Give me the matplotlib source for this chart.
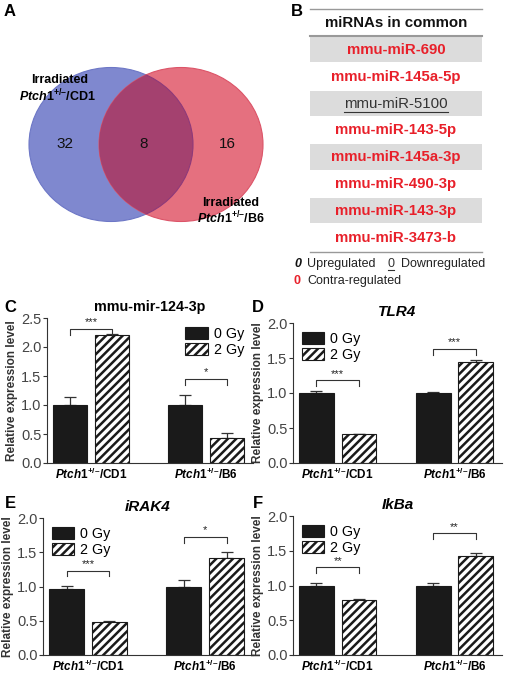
import matplotlib
matplotlib.use("Agg")
import matplotlib.pyplot as plt
from matplotlib.patches import Ellipse, Rectangle
import matplotlib.lines as mlines

plt.rcParams['font.family'] = ['Liberation Sans', 'DejaVu Sans']
plt.rcParams['mathtext.fontset'] = 'custom'
plt.rcParams['mathtext.rm'] = 'Liberation Sans'
plt.rcParams['mathtext.it'] = 'Liberation Sans:italic'
plt.rcParams['mathtext.bf'] = 'Liberation Sans:bold'
plt.rcParams['mathtext.bfit'] = 'Liberation Sans:bold:italic'
plt.rcParams['hatch.linewidth'] = 1.8

W, H = 510, 674

# ---------------- data ----------------
venn_counts = [32, 8, 16]
common_mirnas = ['mmu-miR-690', 'mmu-miR-145a-5p', 'mmu-miR-5100', 'mmu-miR-143-5p',
                 'mmu-miR-145a-3p', 'mmu-miR-490-3p', 'mmu-miR-143-3p', 'mmu-miR-3473-b']
mirna_contra = [True, True, False, True, True, True, True, True]

groups = ['CD1', 'B6']
doses = ['0 Gy', '2 Gy']

c_title = 'mmu-mir-124-3p'
c_0gy = [1.00, 1.00]
c_0gy_err = [0.13, 0.17]
c_2gy = [2.20, 0.43]
c_2gy_err = [0.03, 0.08]
c_stars = ['***', '*']
c_brackets = [2.31, 1.45]

d_title = 'TLR4'
d_0gy = [1.00, 1.00]
d_0gy_err = [0.03, 0.02]
d_2gy = [0.41, 1.44]
d_2gy_err = [0.01, 0.03]
d_stars = ['***', '***']
d_brackets = [1.18, 1.63]

e_title = 'iRAK4'
e_0gy = [0.97, 1.00]
e_0gy_err = [0.04, 0.10]
e_2gy = [0.48, 1.41]
e_2gy_err = [0.01, 0.10]
e_stars = ['***', '*']
e_brackets = [1.23, 1.72]

f_title = 'IkBa'
f_0gy = [1.00, 1.00]
f_0gy_err = [0.03, 0.04]
f_2gy = [0.79, 1.42]
f_2gy_err = [0.01, 0.05]
f_stars = ['**', '**']
f_brackets = [1.26, 1.75]

fig = plt.figure(figsize=(W / 100, H / 100), dpi=100)

# overlay axes in pixel coordinates for panels A, B and letters
ov = fig.add_axes([0, 0, 1, 1])
ov.set_xlim(0, W)
ov.set_ylim(H, 0)
ov.axis('off')

# ---------------- panel A: Venn ----------------
blue = Ellipse((111, 144.5), 164, 154, facecolor='#7f88cf', edgecolor='#6d77c6', lw=0.8)
red = Ellipse((181, 144.5), 164, 154, facecolor='#e5707f', edgecolor='#dc5468', lw=0.8)
ov.add_patch(blue)
ov.add_patch(red)
overlap = Ellipse((111, 144.5), 164, 154, facecolor='#a4416f', edgecolor='#8e3a7a', lw=0.8)
ov.add_patch(overlap)
overlap.set_clip_path(red)
for xpos, n in zip([65, 144, 227], venn_counts):
    ov.text(xpos, 144, str(n), ha='center', va='center', fontsize=11, color='#111111')


def ptch(strain):
    return r'$\mathbfit{Ptch}\mathbf{1}^{\mathbf{+/–}}\mathbf{/' + strain + '}$'


ov.text(60, 80, 'Irradiated', ha='center', va='center', fontsize=9, fontweight='bold')
ov.text(58, 96, ptch('CD1'), ha='center', va='center', fontsize=9, fontweight='bold')
ov.text(231, 203, 'Irradiated', ha='center', va='center', fontsize=9, fontweight='bold')
ov.text(231, 218, ptch('B6'), ha='center', va='center', fontsize=9, fontweight='bold')

# ---------------- panel B: table ----------------
tx0, tx1 = 310, 482
tcx = (tx0 + tx1) / 2
ov.add_line(mlines.Line2D([tx0, tx1], [9, 9], color='#999999', lw=1))
ov.text(tcx, 23, 'miRNAs in common', ha='center', va='center', fontsize=10.8,
        fontweight='bold', color='#111111')
ov.add_line(mlines.Line2D([tx0, tx1], [36, 36], color='#999999', lw=1.5))
row_h = 26.8
fig.canvas.draw()
for i, (name, contra) in enumerate(zip(common_mirnas, mirna_contra)):
    top = 37 + i * row_h
    if i % 2 == 0:
        ov.add_patch(Rectangle((tx0, top), tx1 - tx0, row_h - 1.5,
                               facecolor='#dcdcdc', edgecolor='none'))
    yc = top + row_h / 2 - 0.5
    if contra:
        ov.text(tcx, yc, name, ha='center', va='center', fontsize=10.8,
                fontweight='bold', color='#e8202a')
    else:
        t = ov.text(tcx, yc, name, ha='center', va='center', fontsize=10.8,
                    color='#333333')
        bb = t.get_window_extent(renderer=fig.canvas.get_renderer())
        ov.add_line(mlines.Line2D([bb.x0, bb.x1], [H - bb.y0 + 1, H - bb.y0 + 1],
                                  color='#333333', lw=0.8))
ov.add_line(mlines.Line2D([tx0, tx1], [252, 252], color='#999999', lw=1))

ov.text(294, 264, '0', ha='left', va='center', fontsize=9, fontweight='bold',
        fontstyle='italic', color='#111111')
ov.text(307, 264, 'Upregulated', ha='left', va='center', fontsize=9, color='#222222')
ov.text(388, 264, '0', ha='left', va='center', fontsize=9, color='#333333')
ov.add_line(mlines.Line2D([388, 394], [270, 270], color='#333333', lw=0.8))
ov.text(401, 264, 'Downregulated', ha='left', va='center', fontsize=9, color='#222222')
ov.text(294, 281, '0', ha='left', va='center', fontsize=9, fontweight='bold',
        color='#e8202a')
ov.text(307, 281, 'Contra-regulated', ha='left', va='center', fontsize=9, color='#222222')

# panel letters
for lx, ly, letter in [(10, 12, 'A'), (297, 11, 'B'), (10, 307, 'C'), (258, 307, 'D'),
                       (10, 503, 'E'), (258, 503, 'F')]:
    ov.text(lx, ly, letter, ha='center', va='center', fontsize=12, fontweight='bold')


# ---------------- bar panels ----------------
def px_rect(left, right, top, bottom):
    return [left / W, (H - bottom) / H, (right - left) / W, (bottom - top) / H]


def bar_panel(rect, title, italic, tsize, v0, e0, v2, e2, stars, brackets, ymax,
              legend_loc):
    ax = fig.add_axes(rect)
    centers = [0, 3.29]
    off = 0.6
    x0 = [c - off for c in centers]
    x2 = [c + off for c in centers]
    ax.bar(x0, v0, width=0.98, color='#1a1a1a', edgecolor='#1a1a1a', lw=0.8,
           label=doses[0], zorder=2)
    ax.bar(x2, v2, width=0.98, color='white', edgecolor='#1a1a1a', hatch='////',
           lw=0.8, label=doses[1], zorder=2)
    ax.errorbar(x0, v0, yerr=[[0] * len(e0), e0], fmt='none', ecolor='#333333',
                elinewidth=0.9, capsize=4, capthick=0.9, zorder=1)
    ax.errorbar(x2, v2, yerr=[[0] * len(e2), e2], fmt='none', ecolor='#333333',
                elinewidth=0.9, capsize=4, capthick=0.9, zorder=1)
    drop = ymax * 0.04
    for c, s, b in zip(centers, stars, brackets):
        ax.plot([c - off, c - off, c + off, c + off], [b - drop, b, b, b - drop],
                color='#333333', lw=0.8)
        ax.text(c, b + ymax * 0.012, s, ha='center', va='bottom', fontsize=8,
                color='#222222')
    ax.set_xlim(-1.26, 4.63)
    ax.set_ylim(0, ymax)
    ax.set_yticks([i * 0.5 for i in range(int(ymax / 0.5) + 1)])
    ax.yaxis.set_major_formatter(matplotlib.ticker.FormatStrFormatter('%.1f'))
    ax.set_xticks(centers)
    ax.set_xticklabels([ptch(g) for g in groups], fontsize=8.5, fontweight='bold')
    ax.tick_params(axis='x', length=0, pad=3)
    ax.tick_params(axis='y', length=3, width=0.8, labelsize=10.5, colors='#333333',
                   labelcolor='#444444', pad=1)
    for sp in ['top', 'right']:
        ax.spines[sp].set_visible(False)
    for sp in ['left', 'bottom']:
        ax.spines[sp].set_color('#333333')
        ax.spines[sp].set_linewidth(0.8)
    ax.set_ylabel('Relative expression level', fontsize=8.5, fontweight='bold',
                  color='#333333', labelpad=2)
    ax.set_title(title, fontsize=tsize, fontweight='bold',
                 fontstyle='italic' if italic else 'normal', pad=5)
    ax.legend(loc=legend_loc, frameon=False, fontsize=10.3, handlelength=1.6,
              handleheight=0.9, handletextpad=0.4, labelspacing=0.15,
              borderaxespad=0.2)
    return ax


bar_panel(px_rect(47, 253, 318, 463), c_title, False, 10.3, c_0gy, c_0gy_err, c_2gy,
          c_2gy_err, c_stars, c_brackets, 2.5, 'upper right')
bar_panel(px_rect(293, 502, 323, 463), d_title, True, 11, d_0gy, d_0gy_err, d_2gy,
          d_2gy_err, d_stars, d_brackets, 2.0, 'upper left')
bar_panel(px_rect(43, 253, 518, 655), e_title, True, 11, e_0gy, e_0gy_err, e_2gy,
          e_2gy_err, e_stars, e_brackets, 2.0, 'upper left')
bar_panel(px_rect(293, 502, 516, 655), f_title, True, 11, f_0gy, f_0gy_err, f_2gy,
          f_2gy_err, f_stars, f_brackets, 2.0, 'upper left')

fig.savefig('out.png', dpi=100, facecolor='white')
